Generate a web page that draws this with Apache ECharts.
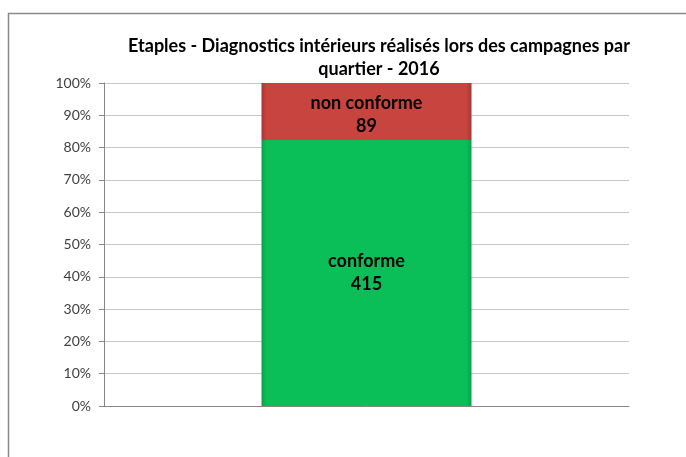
<!DOCTYPE html>
<html><head><meta charset="utf-8">
<script src="https://cdn.jsdelivr.net/npm/echarts@6/dist/echarts.min.js"></script>
<style>html,body{margin:0;padding:0;background:#fff}#c{width:686px;height:457px}</style>
</head><body><div id="c"></div>
<script>
const categories = ['2016'];
const seriesNames = ['conforme', 'non conforme'];
const conforme = [415];
const nonConforme = [89];
const yTicks = [0,10,20,30,40,50,60,70,80,90,100];

const totals = categories.map((_, i) => conforme[i] + nonConforme[i]);
const pct = (arr) => arr.map((v, i) => v / totals[i] * 100);

function grad(edge, base) {
  return new echarts.graphic.LinearGradient(0, 0, 1, 0, [
    {offset: 0, color: edge}, {offset: 0.025, color: base},
    {offset: 0.975, color: base}, {offset: 1, color: edge}
  ]);
}

const chart = echarts.init(document.getElementById('c'), null, {renderer: 'canvas'});
const font = 'Lato, "Liberation Sans", sans-serif';
chart.setOption({
  animation: false,
  title: {
    text: 'Etaples - Diagnostics intérieurs réalisés lors des campagnes par\nquartier - 2016',
    left: 374, textAlign: 'center', top: 30,
    textStyle: {fontFamily: font, fontWeight: 'bold', fontSize: 18, color: '#000', lineHeight: 23}
  },
  graphic: [{
    type: 'polyline', silent: true,
    shape: {points: [[8.5, 457], [8.5, 13.5], [686, 13.5]]},
    style: {stroke: '#8a8a8a', lineWidth: 1.5, fill: null}
  }],
  grid: {left: 104, right: 57, top: 83, bottom: 51},
  xAxis: {
    type: 'category', data: categories,
    axisLine: {lineStyle: {color: '#868686'}},
    axisTick: {show: false}, axisLabel: {show: false}
  },
  yAxis: {
    type: 'value', min: yTicks[0], max: yTicks[yTicks.length - 1], interval: 10,
    axisLine: {show: true, lineStyle: {color: '#868686'}},
    axisTick: {show: true, length: 5, lineStyle: {color: '#868686'}},
    splitLine: {lineStyle: {color: '#c8c8c8'}},
    axisLabel: {formatter: '{value}%', fontFamily: font, fontSize: 14, color: '#404040', margin: 13}
  },
  series: [
    {
      name: seriesNames[0], type: 'bar', stack: 'a', barWidth: 210,
      data: pct(conforme).map((v, i) => ({value: v, raw: conforme[i]})),
      itemStyle: {color: grad('#08a24a', '#0abf58')},
      label: {show: true, position: 'inside', fontFamily: font, fontWeight: 'bold', fontSize: 18, color: '#000', lineHeight: 23,
        formatter: p => seriesNames[0] + '\n' + p.data.raw}
    },
    {
      name: seriesNames[1], type: 'bar', stack: 'a', barWidth: 210,
      data: pct(nonConforme).map((v, i) => ({value: v, raw: nonConforme[i]})),
      itemStyle: {color: grad('#a83633', '#c8443f')},
      label: {show: true, position: 'inside', offset: [0, 3], fontFamily: font, fontWeight: 'bold', fontSize: 18, color: '#000', lineHeight: 23,
        formatter: p => seriesNames[1] + '\n' + p.data.raw}
    }
  ]
});
</script></body></html>
